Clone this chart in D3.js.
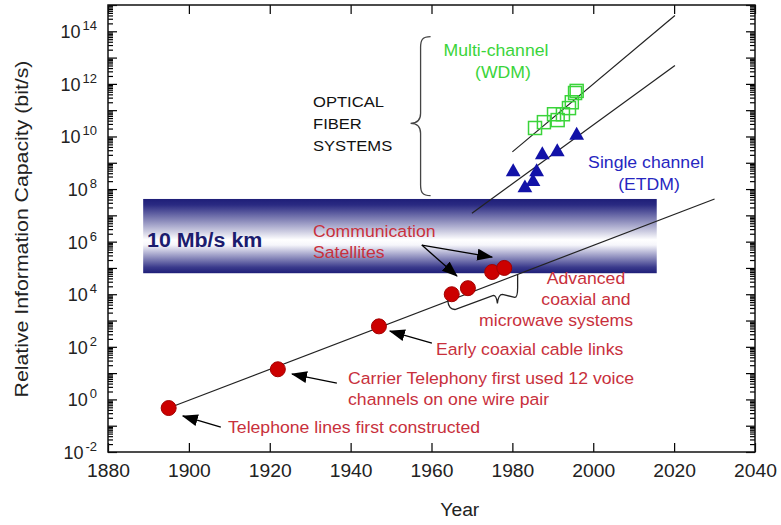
<!DOCTYPE html>
<html>
<head>
<meta charset="utf-8">
<script src="https://cdn.jsdelivr.net/npm/d3@7"></script>
<style>
  body { margin: 0; background: #fff; }
  svg { display: block; font-family: "Liberation Sans", Arial, Helvetica, sans-serif; }
</style>
</head>
<body>
<svg id="chart" width="781" height="525"></svg>
<script>
// ---- data -------------------------------------------------------------
const xTickYears = [1880, 1900, 1920, 1940, 1960, 1980, 2000, 2020, 2040];
const yTickExponents = [-2, 0, 2, 4, 6, 8, 10, 12, 14];

// copper / coax / microwave systems (red circles)
const copperYears    = [1895, 1922, 1947, 1965, 1969, 1975, 1978];
const copperCapacity = [0.47, 14, 600, 1e4, 1.7e4, 7e4, 1e5];

// single-channel optical (ETDM, blue triangles)
const etdmYears    = [1980.2, 1983.1, 1985.1, 1986.0, 1987.4, 1991.1, 1995.9];
const etdmCapacity = [4.5e8, 1.1e8, 1.9e8, 4.5e8, 2e9, 2.6e9, 1.1e10];

// multi-channel optical (WDM, green squares)
const wdmYears    = [1985.6, 1987.8, 1990.3, 1991.2, 1992.5, 1994.0, 1994.7, 1995.5, 1995.9];
const wdmCapacity = [2.1e10, 3.5e10, 7e10, 4.2e10, 7e10, 1.2e11, 2e11, 4.5e11, 5.4e11];

// trend lines (end points)
const copperTrendYears = [1895, 2030],   copperTrendCapacity = [0.47, 4.2e7];
const etdmTrendYears   = [1970, 2020.2], etdmTrendCapacity   = [1.2e7, 5e12];
const wdmTrendYears    = [1980, 2020.2], wdmTrendCapacity    = [2.6e9, 4e14];

// "10 Mb/s km" band
const bandYears    = [1888.7, 2015.7];
const bandCapacity = [6.3e4, 4.2e7];

// ---- scales -----------------------------------------------------------
const svg = d3.select("#chart");
const x = d3.scaleLinear().domain([1880, 2040]).range([108, 755]);
const y = d3.scaleLog().domain([1e-2, 1e15]).range([452, 5]);
const P = (yr, ex) => [x(yr), y(Math.pow(10, ex))];
const SX = 1.07;                       // slight horizontal stretch of the lettering
const RED = "#c8303c", GREEN = "#3ad43a", BLUE = "#2626c0", NAVY = "#1c1c6e";

const defs = svg.append("defs");
const grad = defs.append("linearGradient").attr("id", "bandGrad")
  .attr("x1", 0).attr("y1", 0).attr("x2", 0).attr("y2", 1);
[[0, "#1e1e78"], [0.08, "#2a2a82"], [0.55, "#ffffff"], [0.62, "#f6f6fb"], [0.92, "#3a3a8c"], [1, "#1e1e78"]]
  .forEach(([o, c]) => grad.append("stop").attr("offset", o).attr("stop-color", c));
defs.append("marker").attr("id", "arrow")
  .attr("markerUnits", "userSpaceOnUse")
  .attr("viewBox", "0 0 16 12").attr("markerWidth", 16).attr("markerHeight", 12)
  .attr("refX", 15).attr("refY", 6).attr("orient", "auto")
  .append("path").attr("d", "M0,0 L16,6 L0,12 Z").attr("fill", "#000");

// ---- band -------------------------------------------------------------
svg.append("rect")
  .attr("x", x(bandYears[0])).attr("width", x(bandYears[1]) - x(bandYears[0]))
  .attr("y", y(bandCapacity[1])).attr("height", y(bandCapacity[0]) - y(bandCapacity[1]))
  .attr("fill", "url(#bandGrad)");

// ---- axes -------------------------------------------------------------
const decades = d3.range(-2, 16).map(e => Math.pow(10, e));
const minors = [];
d3.range(-2, 15).forEach(e => d3.range(2, 10).forEach(m => minors.push(m * Math.pow(10, e))));

function styleAxis(g) {
  g.select(".domain").remove();
  g.selectAll(".tick line").attr("stroke", "#000").attr("stroke-width", 1.2);
}
svg.append("g").attr("transform", `translate(${x.range()[0]},0)`)
  .call(d3.axisLeft(y).tickValues(decades).tickSize(-9).tickFormat(""))
  .call(styleAxis);
svg.append("g").attr("transform", `translate(${x.range()[0]},0)`)
  .call(d3.axisLeft(y).tickValues(minors).tickSize(-5).tickFormat(""))
  .call(styleAxis);
svg.append("g").attr("transform", `translate(${x.range()[1]},0)`)
  .call(d3.axisRight(y).tickValues(decades).tickSize(-9).tickFormat(""))
  .call(styleAxis);
svg.append("g").attr("transform", `translate(${x.range()[1]},0)`)
  .call(d3.axisRight(y).tickValues(minors).tickSize(-5).tickFormat(""))
  .call(styleAxis);
svg.append("g").attr("transform", `translate(0,${y.range()[1]})`)
  .call(d3.axisTop(x).tickValues(xTickYears).tickSize(-9).tickFormat(""))
  .call(styleAxis);
const xAxis = svg.append("g").attr("transform", `translate(0,${y.range()[0]})`)
  .call(d3.axisBottom(x).tickValues(xTickYears).tickSize(-9).tickPadding(12).tickFormat(d3.format("d")))
  .call(styleAxis);
xAxis.selectAll("text").attr("font-size", 18).attr("fill", "#222")
  .attr("font-family", "'Liberation Sans', Arial, sans-serif")
  .attr("transform", `scale(${SX},1)`);

// y tick labels: 10 with a superscript exponent
yTickExponents.forEach(e => {
  const t = svg.append("text")
    .attr("x", x.range()[0] - 11).attr("y", y(Math.pow(10, e)) + 7)
    .attr("text-anchor", "end").attr("fill", "#222").attr("font-size", 18);
  t.append("tspan").text("10");
  t.append("tspan").attr("font-size", 13).attr("dy", -8).attr("dx", 2).text(e);
});

// frame
svg.append("rect")
  .attr("x", x.range()[0]).attr("y", y.range()[1])
  .attr("width", x.range()[1] - x.range()[0]).attr("height", y.range()[0] - y.range()[1])
  .attr("fill", "none").attr("stroke", "#111").attr("stroke-width", 1.5);

// axis titles
svg.append("text").attr("transform", "translate(28,229) rotate(-90) scale(1.12,1)")
  .attr("text-anchor", "middle").attr("font-size", 19).attr("fill", "#222")
  .text("Relative Information Capacity (bit/s)");
svg.append("text").attr("transform", `translate(${x(1967)},516) scale(${SX},1)`)
  .attr("text-anchor", "middle").attr("font-size", 18).attr("fill", "#222")
  .text("Year");

// ---- trend lines ------------------------------------------------------
const line = d3.line().x(d => x(d[0])).y(d => y(d[1]));
[[copperTrendYears, copperTrendCapacity],
 [etdmTrendYears, etdmTrendCapacity],
 [wdmTrendYears, wdmTrendCapacity]].forEach(([ys, cs]) => {
  svg.append("path").datum(ys.map((v, i) => [v, cs[i]]))
    .attr("d", line).attr("fill", "none").attr("stroke", "#222").attr("stroke-width", 1.2);
});

// ---- markers ----------------------------------------------------------
svg.append("g").selectAll("circle")
  .data(copperYears.map((v, i) => [v, copperCapacity[i]]))
  .join("circle")
  .attr("cx", d => x(d[0])).attr("cy", d => y(d[1])).attr("r", 7.5)
  .attr("fill", "#cc0000").attr("stroke", "#a30000").attr("stroke-width", 1);

svg.append("g").selectAll("path")
  .data(etdmYears.map((v, i) => [v, etdmCapacity[i]]))
  .join("path")
  .attr("transform", d => `translate(${x(d[0])},${y(d[1])})`)
  .attr("d", d3.symbol(d3.symbolTriangle, 95))
  .attr("fill", "#1212a8");

const sq = 13;
svg.append("g").selectAll("rect")
  .data(wdmYears.map((v, i) => [v, wdmCapacity[i]]))
  .join("rect")
  .attr("x", d => x(d[0]) - sq / 2).attr("y", d => y(d[1]) - sq / 2)
  .attr("width", sq).attr("height", sq)
  .attr("fill", "none").attr("stroke", GREEN).attr("stroke-width", 1.5);

// ---- annotations ------------------------------------------------------
function label(px, py, str, opts = {}) {
  return svg.append("text")
    .attr("transform", `translate(${px},${py}) scale(${SX},1)`)
    .attr("text-anchor", opts.anchor || "start")
    .attr("font-size", opts.size || 16.5)
    .attr("font-weight", opts.weight || "normal")
    .attr("fill", opts.color || RED)
    .text(str);
}
function arrow(from, to) {
  svg.append("line")
    .attr("x1", from[0]).attr("y1", from[1]).attr("x2", to[0]).attr("y2", to[1])
    .attr("stroke", "#000").attr("stroke-width", 1.3).attr("marker-end", "url(#arrow)");
}

label(147, 247, "10 Mb/s km", { size: 20, weight: "bold", color: NAVY });

label(313, 237, "Communication");
label(313, 258, "Satellites");
arrow(P(1957.6, 5.87), P(1975.0, 5.41));
arrow(P(1957.6, 5.87), P(1966.3, 4.69));

label(586, 284, "Advanced", { anchor: "middle" });
label(586, 305, "coaxial and", { anchor: "middle" });
label(556, 326, "microwave systems", { anchor: "middle" });

label(436, 355, "Early coaxial cable links");
arrow(P(1960.1, 2.14), P(1949.7, 2.60));

label(348, 384, "Carrier Telephony first used 12 voice");
label(348, 405, "channels on one wire pair");
arrow(P(1936.6, 0.62), P(1925.5, 0.965));

label(228, 433, "Telephone lines first constructed");
arrow(P(1907.9, -1.05), P(1898.5, -0.63));

label(313, 107, "OPTICAL", { size: 15.5, color: "#111" });
label(313, 129, "FIBER", { size: 15.5, color: "#111" });
label(313, 151, "SYSTEMS", { size: 15.5, color: "#111" });

label(496, 56, "Multi-channel", { anchor: "middle", color: GREEN });
label(503, 78, "(WDM)", { anchor: "middle", color: GREEN });
label(646, 168, "Single channel", { anchor: "middle", color: BLUE });
label(649, 190, "(ETDM)", { anchor: "middle", color: BLUE });

// curly brace grouping the optical systems
{
  const bx = x(1957.3), top = y(Math.pow(10, 13.8)), bot = y(Math.pow(10, 7.75)), mid = y(Math.pow(10, 10.5));
  const tip = bx - 10;
  svg.append("path")
    .attr("d", `M${bx + 10},${top} C${bx + 2},${top} ${bx},${top + 3} ${bx},${top + 11}
                L${bx},${mid - 10} C${bx},${mid - 3} ${bx - 3},${mid} ${tip},${mid}
                C${bx - 3},${mid} ${bx},${mid + 3} ${bx},${mid + 10}
                L${bx},${bot - 11} C${bx},${bot - 3} ${bx + 2},${bot} ${bx + 10},${bot}`)
    .attr("fill", "none").attr("stroke", "#444").attr("stroke-width", 1.3);
}

// slanted brace under the advanced coaxial / microwave points
{
  const a = P(1964.0, 3.76);   // left arm
  const b = P(1965.8, 3.42);   // lower-left corner
  const c = P(1976.3, 3.65);   // centre cusp
  const d = P(1980.6, 3.88);   // lower-right corner
  const e = P(1981.3, 4.75);   // right arm top
  svg.append("path")
    .attr("d", `M${a[0]},${a[1]} Q${a[0] + 1},${b[1]} ${b[0]},${b[1]}
                L${c[0] - 4},${c[1] - 8} Q${c[0] - 1},${c[1] - 8} ${c[0]},${c[1]}
                Q${c[0] + 1},${c[1] - 9} ${c[0] + 5},${c[1] - 9}
                L${d[0]},${d[1]} Q${e[0]},${d[1]} ${e[0]},${d[1] - 10} L${e[0]},${e[1]}`)
    .attr("fill", "none").attr("stroke", "#222").attr("stroke-width", 1.3);
}
</script>
</body>
</html>
